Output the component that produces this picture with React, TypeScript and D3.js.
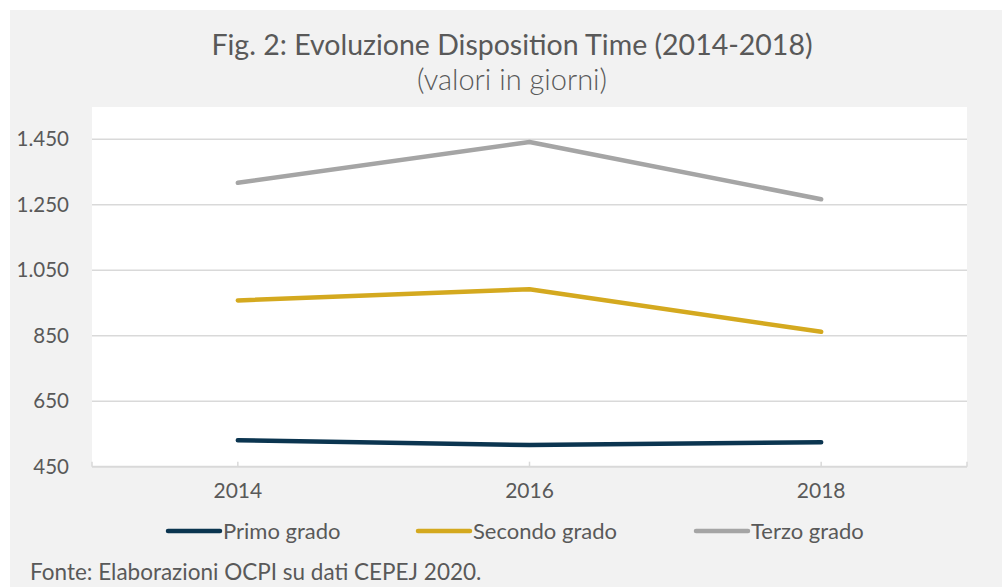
import { useEffect, useRef } from "react";
import * as d3 from "d3";

const years = ["2014", "2016", "2018"];
const primoGrado = [531, 516, 525];
const secondoGrado = [958, 992, 862];
const terzoGrado = [1317, 1442, 1267];
const yTicks = [450, 650, 850, 1050, 1250, 1450];

const series = [
  { name: "Primo grado", values: primoGrado, color: "#0b3550" },
  { name: "Secondo grado", values: secondoGrado, color: "#d4a91f" },
  { name: "Terzo grado", values: terzoGrado, color: "#a5a5a5" },
];

const App = () => {
  const svgRef = useRef<SVGSVGElement | null>(null);

  useEffect(() => {
    const svg = d3.select(svgRef.current);
    svg.selectAll("*").remove();

    const width = 1002;
    const height = 587;
    const plot = { left: 92, right: 967, top: 107, bottom: 467 };
    const font = "Lato, 'Open Sans', sans-serif";
    const textColor = "#595959";

    // sfondo grigio
    svg.append("rect")
      .attr("x", 10).attr("y", 10)
      .attr("width", width - 10).attr("height", height - 10)
      .attr("fill", "#f2f2f2");

    svg.append("rect")
      .attr("x", plot.left).attr("y", plot.top)
      .attr("width", plot.right - plot.left).attr("height", plot.bottom - plot.top)
      .attr("fill", "#ffffff");

    const x = d3.scaleBand().domain(years).range([plot.left, plot.right]);
    const y = d3.scaleLinear().domain([450, 1450]).range([466.7, 139.3]);

    // griglia
    svg.append("g")
      .selectAll("line")
      .data(yTicks)
      .enter()
      .append("line")
      .attr("x1", plot.left).attr("x2", plot.right)
      .attr("y1", d => y(d)).attr("y2", d => y(d))
      .attr("stroke", "#d9d9d9")
      .attr("stroke-width", d => (d === 450 ? 2 : 1.5));

    // tacche asse x
    const tickX = [plot.left, ...years.map(d => x(d)! + x.bandwidth() / 2), plot.right];
    svg.append("g")
      .selectAll("line")
      .data(tickX)
      .enter()
      .append("line")
      .attr("x1", d => d).attr("x2", d => d)
      .attr("y1", y(450) - 5).attr("y2", y(450))
      .attr("stroke", "#d9d9d9")
      .attr("stroke-width", 1.5);

    // etichette asse y
    svg.append("g")
      .selectAll("text")
      .data(yTicks)
      .enter()
      .append("text")
      .attr("x", 69)
      .attr("y", d => y(d) + 7)
      .attr("text-anchor", "end")
      .attr("font-family", font)
      .attr("font-size", 20.5)
      .attr("fill", textColor)
      .text(d => d3.format(",")(d).replace(",", "."));

    // etichette asse x
    svg.append("g")
      .selectAll("text")
      .data(years)
      .enter()
      .append("text")
      .attr("x", d => x(d)! + x.bandwidth() / 2)
      .attr("y", 498)
      .attr("text-anchor", "middle")
      .attr("font-family", font)
      .attr("font-size", 21)
      .attr("fill", textColor)
      .text(d => d);

    // linee
    const line = d3.line<number>()
      .x((_, i) => x(years[i])! + x.bandwidth() / 2)
      .y(d => y(d));

    series.forEach(s => {
      svg.append("path")
        .attr("d", line(s.values))
        .attr("fill", "none")
        .attr("stroke", s.color)
        .attr("stroke-width", 4.5)
        .attr("stroke-linecap", "round")
        .attr("stroke-linejoin", "round");
    });

    // titolo
    svg.append("text")
      .attr("x", 512).attr("y", 55)
      .attr("text-anchor", "middle")
      .attr("font-family", font)
      .attr("font-size", 28.5)
      .attr("fill", textColor)
      .text("Fig. 2: Evoluzione Disposition Time (2014-2018)");

    svg.append("text")
      .attr("x", 512).attr("y", 90)
      .attr("text-anchor", "middle")
      .attr("font-family", font)
      .attr("font-weight", 300)
      .attr("font-size", 29)
      .attr("fill", textColor)
      .text("(valori in giorni)");

    // legenda
    const legendX = [168, 418, 696];
    series.forEach((s, i) => {
      svg.append("line")
        .attr("x1", legendX[i]).attr("x2", legendX[i] + 52)
        .attr("y1", 531).attr("y2", 531)
        .attr("stroke", s.color)
        .attr("stroke-width", 4.5)
        .attr("stroke-linecap", "round");
      svg.append("text")
        .attr("x", legendX[i] + 55)
        .attr("y", 539)
        .attr("font-family", font)
        .attr("font-size", 22)
        .attr("fill", textColor)
        .text(s.name);
    });

    // fonte
    svg.append("text")
      .attr("x", 30).attr("y", 580)
      .attr("font-family", font)
      .attr("font-size", 22.5)
      .attr("fill", textColor)
      .text("Fonte: Elaborazioni OCPI su dati CEPEJ 2020.");
  }, []);

  return (
    <svg
      ref={svgRef}
      width={1002}
      height={587}
      style={{ position: "absolute", left: 0, top: 0, display: "block" }}
    ></svg>
  );
};

export default App;
